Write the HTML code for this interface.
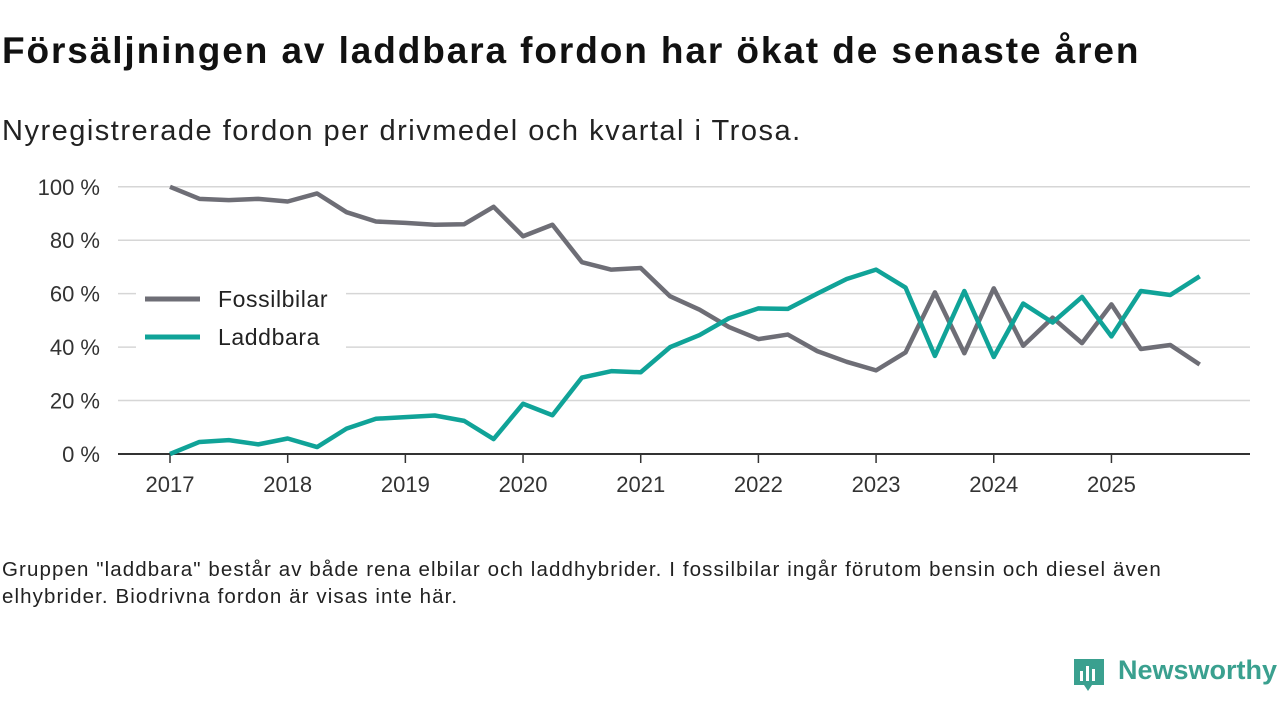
<!DOCTYPE html>
<html><head><meta charset="utf-8"><style>
body{margin:0;width:1280px;height:720px;background:#fff;font-family:"Liberation Sans",sans-serif;overflow:hidden;position:relative}
#title{position:absolute;left:2px;top:30px;font-size:37px;letter-spacing:1.9px;font-weight:bold;color:#111;white-space:nowrap}
#sub{position:absolute;left:2px;top:115px;font-size:29px;letter-spacing:1.5px;color:#222;white-space:nowrap}
#note{position:absolute;left:2px;top:556px;font-size:20.5px;letter-spacing:1.1px;color:#222;line-height:27px;width:1230px}
#logo{position:absolute;left:1072px;top:655px;font-size:27px;font-weight:bold;color:#3aa08f}
svg{position:absolute;left:0;top:0}
</style></head><body>
<div id="title">Försäljningen av laddbara fordon har ökat de senaste åren</div>
<div id="sub">Nyregistrerade fordon per drivmedel och kvartal i Trosa.</div>
<svg id="chart" width="1280" height="720"></svg>
<div id="note">Gruppen "laddbara" består av både rena elbilar och laddhybrider. I fossilbilar ingår förutom bensin och diesel även elhybrider. Biodrivna fordon är visas inte här.</div>
<div id="logo"><svg width="34" height="36" style="position:absolute;left:0;top:2px"><path d="M2 2h30v26h-12l-4 6-4-6h-10z" fill="#3aa08f"/><rect x="8" y="14" width="3" height="10" fill="#fff"/><rect x="14" y="9" width="3" height="15" fill="#fff"/><rect x="20" y="12" width="3" height="12" fill="#fff"/></svg><span style="margin-left:46px">Newsworthy</span></div>
<script>
const years=["2017","2018","2019","2020","2021","2022","2023","2024","2025"];
const yTicks=[0,20,40,60,80,100];
const fossil=[100,95.5,95,95.5,94.5,97.5,90.5,87,86.5,85.8,86,92.5,81.5,85.8,71.8,69,69.6,59,54,47.5,43,44.7,38.5,34.5,31.3,38,60.5,37.7,62,40.5,51,41.5,56,39.3,40.8,33.5];
const laddbara=[0,4.5,5.2,3.6,5.8,2.6,9.5,13.2,13.8,14.4,12.4,5.6,18.8,14.5,28.6,31,30.6,40,44.5,50.8,54.5,54.3,60,65.5,69,62.3,36.7,61,36.3,56.3,49.2,58.8,44,61,59.5,66.5];
const svg=document.getElementById('chart');const NS="http://www.w3.org/2000/svg";
const x=q=>170+q*29.42, y=v=>454-v*2.672;
function el(t,a,txt){const e=document.createElementNS(NS,t);for(const k in a)e.setAttribute(k,a[k]);if(txt!=null)e.textContent=txt;svg.appendChild(e);return e;}
yTicks.forEach(v=>{
 const g=el('line',{x1:118,x2:1250,y1:y(v),y2:y(v),stroke:v?'#d6d6d6':'#333','stroke-width':v?1.5:2});
 
 
 const t=el('text',{x:100,y:y(v)+8,'text-anchor':'end','font-size':22,fill:'#333','font-family':'Liberation Sans'},v+' %');
 
 
});
years.forEach((yr,i)=>{
 const q=i*4;
 const tk=el('line',{x1:x(q),x2:x(q),y1:454,y2:463,stroke:'#333','stroke-width':1.5});
 
 
 const t=el('text',{x:x(q),y:492,'text-anchor':'middle','font-size':22,fill:'#333','font-family':'Liberation Sans'},yr);
 
 
});
function line(d,c,n){const p=el('polyline',{points:d.map((v,i)=>x(i)+','+y(v)).join(' '),fill:'none',stroke:c,'stroke-width':4.5,'stroke-linejoin':'round'});
 
 }
line(fossil,'#6e6e76','fossilbilar-line');
line(laddbara,'#10a398','laddbara-line');
[['Fossilbilar','#6e6e76',299],['Laddbara','#10a398',337]].forEach(([n,c,yy])=>{
 const r=el('rect',{x:136,y:yy-18,width:210,height:38,fill:'#fff'});
 
 
 const l=el('line',{x1:145,x2:200,y1:yy,y2:yy,stroke:c,'stroke-width':5});
 
 
 const t=el('text',{x:218,y:yy+8,'font-size':23,'letter-spacing':0.6,fill:'#222','font-family':'Liberation Sans'},n);
 
 
});
</script>
</body></html>
